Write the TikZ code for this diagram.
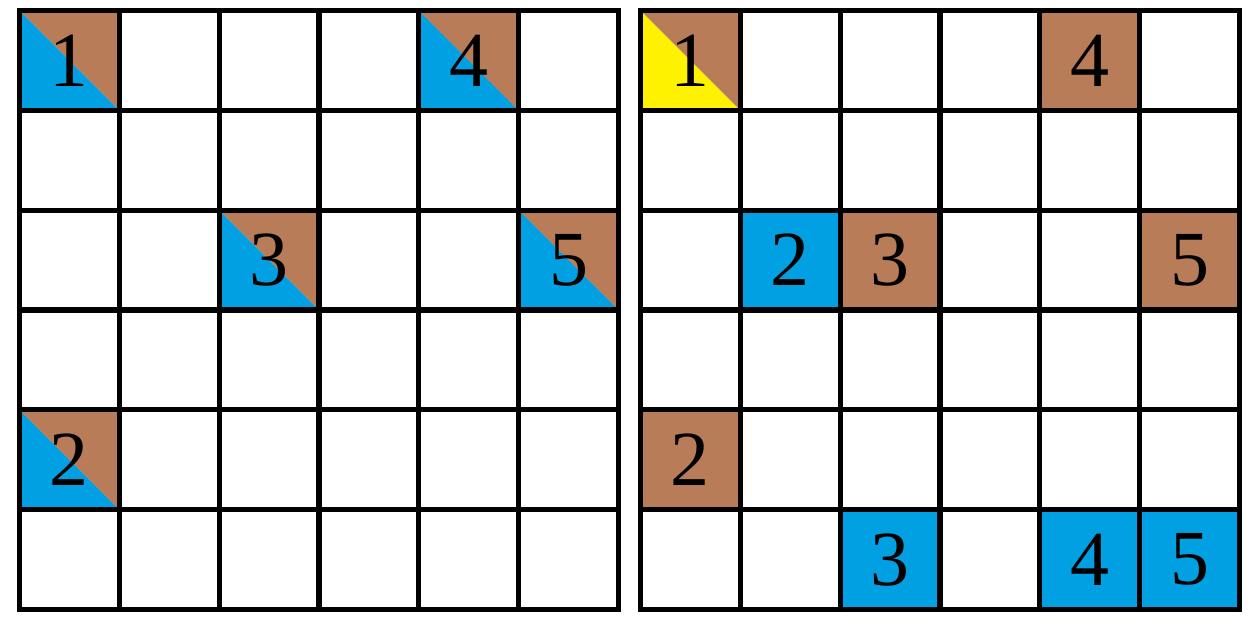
\documentclass[tikz,border=0pt]{standalone}
\usepackage{fontspec}
\setmainfont{Liberation Serif}
\definecolor{cblue}{RGB}{0,160,227}
\definecolor{cbrown}{RGB}{185,124,88}
\definecolor{cyel}{RGB}{255,242,0}
\def\s{99.83}
\def\yo{10.5}
\def\XL{19.5}
\def\XR{640.5}
\newcommand\diagcell[5]{%
  \fill[#4] ({#1+#3*\s},{\yo+#2*\s}) -- ++(0,\s) -- ++(\s,0) -- cycle;
  \fill[#5] ({#1+#3*\s},{\yo+#2*\s}) -- ++(\s,0) -- ++(0,\s) -- cycle;}
\newcommand\fullcell[4]{\fill[#4] ({#1+#3*\s},{\yo+#2*\s}) rectangle ++(\s,\s);}
\begin{document}
\begin{tikzpicture}[x=0.5pt,y=-0.5pt,
  num/.style={font=\fontsize{39}{39}\selectfont, inner sep=0pt},
  gridline/.style={line width=2.6pt, line cap=rect}]
\useasboundingbox (0,0) rectangle (1258,624);
% left grid fills
\diagcell{\XL}{0}{0}{cblue}{cbrown}
\diagcell{\XL}{0}{4}{cblue}{cbrown}
\diagcell{\XL}{2}{2}{cblue}{cbrown}
\diagcell{\XL}{2}{5}{cblue}{cbrown}
\diagcell{\XL}{4}{0}{cblue}{cbrown}
% right grid fills
\diagcell{\XR}{0}{0}{cyel}{cbrown}
\fullcell{\XR}{0}{4}{cbrown}
\fullcell{\XR}{2}{1}{cblue}
\fullcell{\XR}{2}{2}{cbrown}
\fullcell{\XR}{2}{5}{cbrown}
\fullcell{\XR}{4}{0}{cbrown}
\fullcell{\XR}{5}{2}{cblue}
\fullcell{\XR}{5}{4}{cblue}
\fullcell{\XR}{5}{5}{cblue}
% grid lines
\foreach \X in {\XL,\XR}{
  \foreach \i in {0,...,6}{
    \draw[gridline] ({\X},{\yo+\i*\s}) -- ++({6*\s},0);
    \draw[gridline] ({\X+\i*\s},{\yo}) -- ++(0,{6*\s});
  }
}
% left numbers
\node[num] (l1) at ({\XL+0.5*\s},{\yo+0.5*\s}) {1};
\node[num] (l4) at ({\XL+4.5*\s},{\yo+0.5*\s}) {4};
\node[num] (l3) at ({\XL+2.5*\s},{\yo+2.5*\s}) {3};
\node[num] (l5) at ({\XL+5.5*\s},{\yo+2.5*\s}) {5};
\node[num] (l2) at ({\XL+0.5*\s},{\yo+4.5*\s}) {2};
% right numbers
\node[num] (r1) at ({\XR+0.5*\s},{\yo+0.5*\s}) {1};
\node[num] (r4a) at ({\XR+4.5*\s},{\yo+0.5*\s}) {4};
\node[num] (r2a) at ({\XR+1.5*\s},{\yo+2.5*\s}) {2};
\node[num] (r3a) at ({\XR+2.5*\s},{\yo+2.5*\s}) {3};
\node[num] (r5a) at ({\XR+5.5*\s},{\yo+2.5*\s}) {5};
\node[num] (r2b) at ({\XR+0.5*\s},{\yo+4.5*\s}) {2};
\node[num] (r3b) at ({\XR+2.5*\s},{\yo+5.5*\s}) {3};
\node[num] (r4b) at ({\XR+4.5*\s},{\yo+5.5*\s}) {4};
\node[num] (r5b) at ({\XR+5.5*\s},{\yo+5.5*\s}) {5};
\end{tikzpicture}
\end{document}
